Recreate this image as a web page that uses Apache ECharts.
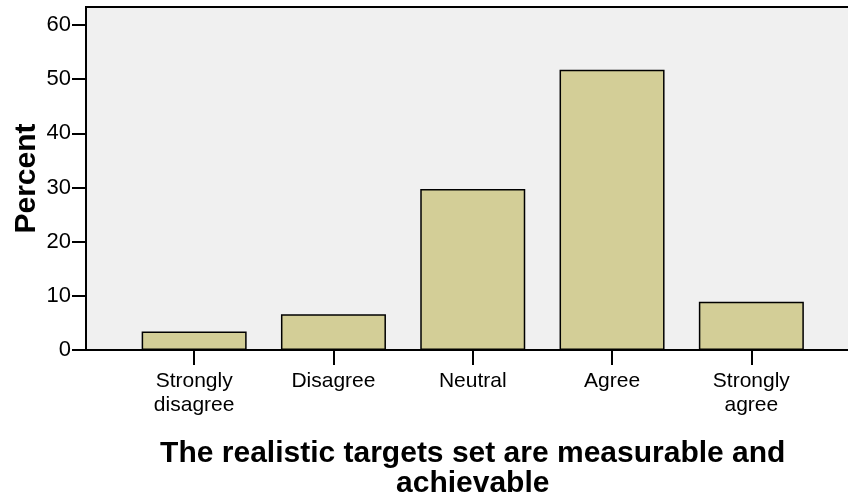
<!DOCTYPE html>
<html>
<head>
<meta charset="utf-8">
<script src="https://cdn.jsdelivr.net/npm/echarts@6/dist/echarts.min.js"></script>
<style>
html,body{margin:0;padding:0;background:#fff;}
#chart{width:848px;height:500px;}
</style>
</head>
<body>
<div id="chart"></div>
<script>
var categories = ['Strongly\ndisagree', 'Disagree', 'Neutral', 'Agree', 'Strongly\nagree'];
var percents = [3.4, 6.6, 29.7, 51.7, 8.9];
var yTicks = [0, 10, 20, 30, 40, 50, 60];
var yTitle = 'Percent';
var xTitle = 'The realistic targets set are measurable and\nachievable';

var FONT = '"Liberation Sans", Arial, sans-serif';
var chart = echarts.init(document.getElementById('chart'), null, {renderer: 'canvas'});
var yMax = 63.3;
chart.setOption({
  animation: false,
  backgroundColor: '#ffffff',
  grid: [
    {left: 124.5, right: 27, top: 7, bottom: 150, show: false, containLabel: false, outerBoundsMode: 'none'},
    {left: 86, right: -6, top: 7, bottom: 150, show: true, containLabel: false, outerBoundsMode: 'none',
     backgroundColor: '#f0f0f0', borderColor: '#000', borderWidth: 2}
  ],
  xAxis: [
    {
      type: 'category', gridIndex: 0, data: categories, boundaryGap: true,
      axisLine: {show: false},
      axisTick: {show: true, alignWithLabel: true, length: 15, lineStyle: {color: '#000', width: 2}},
      axisLabel: {color: '#000', fontFamily: FONT, fontSize: 21, lineHeight: 24, margin: 19, interval: 0},
      name: xTitle, nameLocation: 'middle', nameGap: 89, nameMoveOverlap: false,
      nameTextStyle: {color: '#000', fontFamily: FONT, fontSize: 30, fontWeight: 'bold', lineHeight: 30, verticalAlign: 'top'}
    },
    {type: 'value', gridIndex: 1, show: false, min: 0, max: 1}
  ],
  yAxis: [
    {type: 'value', gridIndex: 0, show: false, min: 0, max: yMax},
    {
      type: 'value', gridIndex: 1, min: 0, max: yMax,
      splitLine: {show: false},
      axisLine: {show: true, lineStyle: {color: '#000', width: 2}},
      axisTick: {show: true, length: 14, lineStyle: {color: '#000', width: 2}, customValues: yTicks},
      axisLabel: {color: '#000', fontFamily: FONT, fontSize: 22, margin: 15, customValues: yTicks},
      name: yTitle, nameLocation: 'middle', nameGap: 44, nameRotate: 90, nameMoveOverlap: false,
      nameTextStyle: {color: '#000', fontFamily: FONT, fontSize: 30, fontWeight: 'bold'}
    }
  ],
  series: [{
    type: 'bar', xAxisIndex: 0, yAxisIndex: 0, data: percents,
    barWidth: 105,
    itemStyle: {color: '#d3ce97', borderColor: '#000', borderWidth: 1.5},
    emphasis: {disabled: true}
  }]
});
</script>
</body>
</html>
